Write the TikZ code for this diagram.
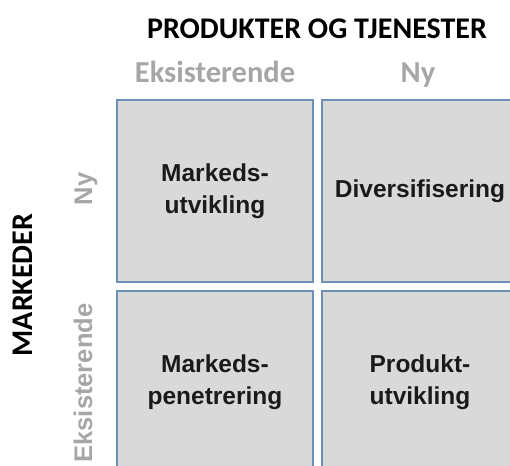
\documentclass[tikz,border=0pt]{standalone}
\usepackage{fontspec}
\usetikzlibrary{positioning}
\newfontfamily\headfont{Carlito}
\newfontfamily\cellfont{Liberation Sans}
\definecolor{boxblue}{RGB}{110,143,184}
\definecolor{boxfill}{RGB}{217,217,217}
\definecolor{labelgrey}{RGB}{166,166,166}
\definecolor{celltext}{RGB}{26,26,26}

\begin{document}
\begin{tikzpicture}[x = 1pt, y = 1pt, inner sep = 0]
          \tikzstyle {cell} = [draw = boxblue, fill = boxfill, line width = 1.6pt,
            minimum width = 196pt, minimum height = 182pt, align = center,
            text = celltext, font = \cellfont\bfseries\fontsize{24.5}{32}\selectfont]
          \tikzstyle {axis} = [font = \headfont\bfseries\fontsize{30}{32}\selectfont]
          \tikzstyle {colhead} = [text = labelgrey, font = \headfont\bfseries\fontsize{30.5}{32}\selectfont]
          \tikzstyle {rowhead} = [text = labelgrey, rotate = 90, font = \cellfont\bfseries\fontsize{25.5}{28}\selectfont]
          \clip (0,0) rectangle (510,465);
          % place the four cells
          \path node (mu) [cell] at (215,274) {Markeds-\\utvikling};
          \path node (di) [cell] at (420,274) {Diversifisering};
          \path node (mp) [cell] at (215,83) {Markeds-\\penetrering};
          \path node (pu) [cell] at (420,83) {Produkt-\\utvikling};
          % axis titles
          \path node (prod) [axis, anchor = base] at (317,426) {PRODUKTER OG TJENESTER};
          \path node (mark) [axis, rotate = 90] at (23,180) {MARKEDER};
          % column and row headings
          \path node (eks) [colhead, anchor = base] at (215,382) {Eksisterende};
          \path node (ny) [colhead, anchor = base] at (418,382) {Ny};
          \path node (nyr) [rowhead, anchor = base] at (92,276) {Ny};
          \path node (eksr) [rowhead, anchor = base] at (92,82) {Eksisterende};
        \end{tikzpicture}
\end{document}
